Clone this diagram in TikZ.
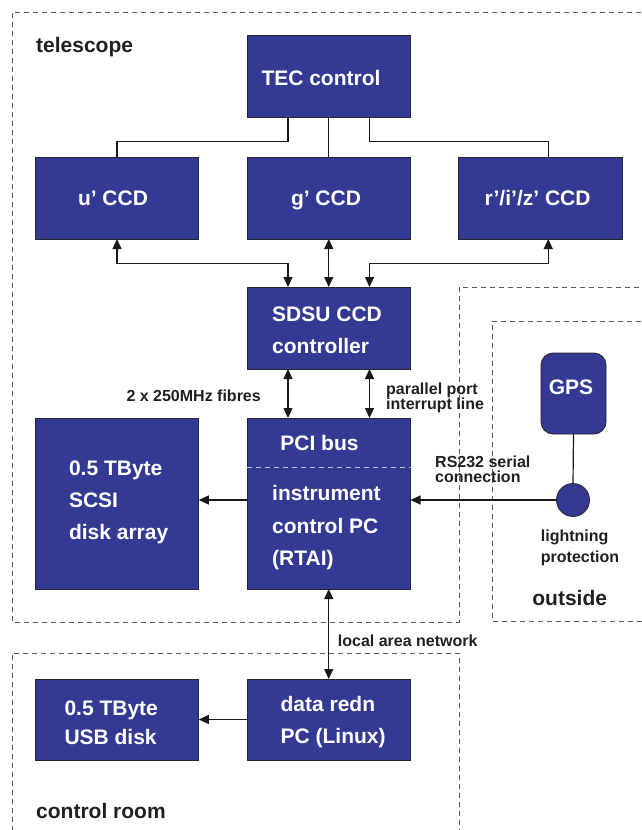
\documentclass[tikz,border=0pt]{standalone}
\usepackage{fontspec}
\setmainfont{Liberation Sans}
\usetikzlibrary{arrows.meta,shapes.geometric}
\definecolor{boxblue}{RGB}{52,58,148}
\definecolor{labelgray}{RGB}{35,31,32}
\definecolor{dashgray}{RGB}{90,90,90}
\begin{document}
\begin{tikzpicture}[x=1pt,y=-1pt,
  box/.style={draw=black!85, line width=0.8pt, fill=boxblue, minimum width=163.5pt, minimum height=82pt, inner sep=0pt, outer sep=0pt},
  btxt/.style={font=\fontsize{21}{21}\selectfont\bfseries, text=white, inner sep=0pt},
  lbl/.style={font=\fontsize{16}{16}\selectfont\bfseries, text=labelgray, inner sep=0pt},
  region/.style={font=\fontsize{21}{21}\selectfont\bfseries, text=labelgray, inner sep=0pt},
  zone/.style={draw=dashgray, line width=0.9pt, dash pattern=on 5pt off 4pt},
  wire/.style={draw=black!90, line width=1.2pt},
  arr/.style={wire, -{Triangle[length=10pt,width=9pt]}},
  arrb/.style={wire, {Triangle[length=10pt,width=9pt]}-{Triangle[length=10pt,width=9pt]}}
]
\useasboundingbox (0,0) rectangle (642,830);

% regions
\draw[zone] (650,12) -- (12,12) -- (12,622) -- (459,622) -- (459,287) -- (650,287);
\draw[zone] (650,321) -- (492,321) -- (492,621) -- (650,621);
\draw[zone] (12,840) -- (12,653) -- (459,653) -- (459,840);
\node[region, anchor=base west] (ltel) at (36,52) {telescope};
\node[region, anchor=base] (lout) at (569.7,605.7) {outside};
\node[region, anchor=base west] (lcr) at (36,818) {control room};

% boxes
\node[box] (tec) at (328.75,76) {};
\node[box] (ucd) at (117,198) {};
\node[box] (gcd) at (328.75,198) {};
\node[box] (rcd) at (540.25,198) {};
\node[box] (sdsu) at (328.75,328) {};
\node[box, minimum height=171pt] (pc) at (328.75,503.5) {};
\node[box, minimum height=171pt] (scsi) at (117,503.5) {};
\node[box, minimum height=81pt] (dr) at (328.75,719.5) {};
\node[box, minimum height=81pt] (usb) at (117,719.5) {};
\node[box, minimum width=65pt, minimum height=81pt, rounded corners=12pt] (gps) at (573.5,393.5) {};
\node[draw=black!85, line width=0.8pt, fill=boxblue, circle, minimum size=33pt, inner sep=0pt, outer sep=0pt] (lp) at (573,500) {};

\draw[draw=white!70!boxblue, line width=0.9pt, dash pattern=on 5pt off 4pt]
  ([yshift=-49pt]pc.north west) -- ([yshift=-49pt]pc.north east);

% box texts
\node[btxt, anchor=base] (ttec) at (321,85) {TEC control};
\node[btxt, anchor=base] (tu) at (113,205) {u’ CCD};
\node[btxt, anchor=base] (tg) at (326,205) {g’ CCD};
\node[btxt, anchor=base] (tr) at (537.6,205) {r’/i’/z’ CCD};
\node[btxt, anchor=base west] (ts1) at (272,321) {SDSU CCD};
\node[btxt, anchor=base west] (ts2) at (272,353.3) {controller};
\node[btxt, anchor=base] (tpci) at (319.5,450.7) {PCI bus};
\node[btxt, anchor=base west] (tp1) at (272,500) {instrument};
\node[btxt, anchor=base west] (tp2) at (272,533.3) {control PC};
\node[btxt, anchor=base west] (tp3) at (272,565.5) {(RTAI)};
\node[btxt, anchor=base west] (tc1) at (68.8,475) {0.5 TByte};
\node[btxt, anchor=base west] (tc2) at (68.8,507.3) {SCSI};
\node[btxt, anchor=base west] (tc3) at (68.8,539.3) {disk array};
\node[btxt, anchor=base] (tgps) at (571,394) {GPS};
\node[btxt, anchor=base west] (td1) at (280.4,711.7) {data redn};
\node[btxt, anchor=base west] (td2) at (280.4,743) {PC (Linux)};
\node[btxt, anchor=base west] (tb1) at (64.3,715.5) {0.5 TByte};
\node[btxt, anchor=base west] (tb2) at (64.3,744) {USB disk};

% labels
\node[lbl, anchor=base east] (lfib) at (261,401.5) {2 x 250MHz fibres};
\node[lbl, anchor=base west] (lpp1) at (386,394) {parallel port};
\node[lbl, anchor=base west] (lpp2) at (386,409.5) {interrupt line};
\node[lbl, anchor=base west] (lrs1) at (435,467.3) {RS232 serial};
\node[lbl, anchor=base west] (lrs2) at (435,482.3) {connection};
\node[lbl, anchor=base west] (llp1) at (540.7,541) {lightning};
\node[lbl, anchor=base west] (llp2) at (540.7,562.3) {protection};
\node[lbl, anchor=base west] (llan) at (337.7,646.5) {local area network};

% TEC to CCDs
\draw[wire] ([xshift=-40.75pt]tec.south) -- ++(0,24.7) -| (ucd.north);
\draw[wire] (tec.south) -- (gcd.north);
\draw[wire] ([xshift=40.75pt]tec.south) -- ++(0,24.7) -| ([xshift=8pt]rcd.north);

% CCDs to SDSU
\draw[arrb] (ucd.south) -- ++(0,24.3) -| ([xshift=-40.75pt]sdsu.north);
\draw[arrb] (gcd.south) -- (sdsu.north);
\draw[arrb] ([xshift=8pt]rcd.south) -- ++(0,24.3) -| ([xshift=40.75pt]sdsu.north);

% SDSU to PC
\draw[arrb] ([xshift=-40.75pt]sdsu.south) -- ([xshift=-40.75pt]pc.north);
\draw[arrb] ([xshift=40.75pt]sdsu.south) -- ([xshift=40.75pt]pc.north);

% PC links
\draw[arr] (pc.west |- lp.center) -- (scsi.east |- lp.center);
\draw[arr] (lp.west) -- (lp.west -| pc.east);
\draw[wire] (gps.south) -- (lp.north);
\draw[arrb] (pc.south) -- (dr.north);
\draw[arr] (dr.west) -- (usb.east);
\end{tikzpicture}
\end{document}
